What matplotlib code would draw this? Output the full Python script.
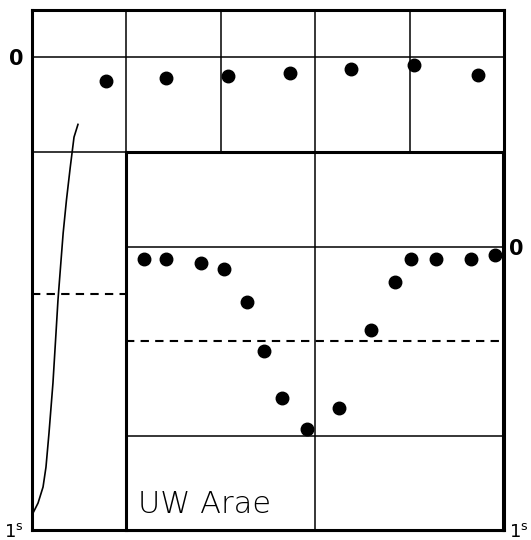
import matplotlib
matplotlib.use('Agg')
import matplotlib.pyplot as plt
import numpy as np

# outer panel: successive maxima (cycle units) and magnitude below maximum
top_x = [0.784, 1.419, 2.076, 2.733, 3.379, 4.047, 4.725]
top_mag = [0.051, 0.044, 0.040, 0.034, 0.025, 0.017, 0.038]

# rising branch drawn on the left
rise_x = [0.011, 0.064, 0.117, 0.148, 0.180, 0.222, 0.254, 0.275, 0.302, 0.330, 0.365, 0.405, 0.445, 0.487]
rise_mag = [0.964, 0.943, 0.909, 0.867, 0.795, 0.689, 0.584, 0.514, 0.444, 0.372, 0.302, 0.233, 0.169, 0.142]

# inset: the maximum on an enlarged scale
ins_x = [0.095, 0.212, 0.398, 0.520, 0.642, 0.732, 0.828, 0.960, 1.130, 1.300, 1.427, 1.512, 1.645, 1.830, 1.958]
ins_mag = [0.044, 0.044, 0.058, 0.079, 0.196, 0.369, 0.534, 0.644, 0.570, 0.295, 0.125, 0.044, 0.044, 0.044, 0.030]

W, H = 531, 540
fig = plt.figure(figsize=(W / 100, H / 100), dpi=100)
fig.patch.set_facecolor('white')

frame_lw = 2.2
grid_lw = 1.1

ax = fig.add_axes([32 / W, 10 / H, 472 / W, 520 / H])
ax.set_xlim(0, 5)
ax.set_ylim(1, -0.1)
for s in ax.spines.values():
    s.set_linewidth(frame_lw)
for xv in [1, 2, 3, 4]:
    ax.axvline(xv, color='k', lw=grid_lw)
for yv in [0, 0.2]:
    ax.axhline(yv, color='k', lw=grid_lw)
ax.plot([0, 1], [0.5, 0.5], color='k', lw=1.5, ls=(0, (4, 3)))
ax.plot(rise_x, rise_mag, color='k', lw=1.2)
ax.plot(top_x, top_mag, 'o', color='k', ms=9)
ax.set_xticks([])
ax.set_yticks([0, 1])
ax.set_yticklabels(['0', r'$\mathregular{1^s}$'])
ax.tick_params(axis='y', length=0, pad=6, labelsize=13)
ax.get_yticklabels()[0].set_fontweight('bold')
ax.get_yticklabels()[0].set_fontsize(15)

ins = fig.add_axes([126 / W, 10 / H, 377 / W, 378 / H])
ins.set_facecolor('white')
ins.set_xlim(0, 2)
ins.set_ylim(1, -1 / 3)
for s in ins.spines.values():
    s.set_linewidth(frame_lw)
ins.axvline(1, color='k', lw=grid_lw)
for yv in [0, 2 / 3]:
    ins.axhline(yv, color='k', lw=grid_lw)
ins.axhline(1 / 3, color='k', lw=1.5, ls=(0, (4, 3)))
ins.plot(ins_x, ins_mag, 'o', color='k', ms=9, clip_on=False)
ins.set_xticks([])
ins.yaxis.tick_right()
ins.set_yticks([0, 1])
ins.set_yticklabels(['0', r'$\mathregular{1^s}$'])
ins.tick_params(axis='y', length=0, pad=4, labelsize=13)
ins.get_yticklabels()[0].set_fontweight('bold')
ins.get_yticklabels()[0].set_fontsize(15)
ins.text(0.032, 0.045, 'UW Arae', transform=ins.transAxes, fontsize=22,
         fontweight='light', va='baseline', ha='left')

fig.savefig('out.png', dpi=100)
